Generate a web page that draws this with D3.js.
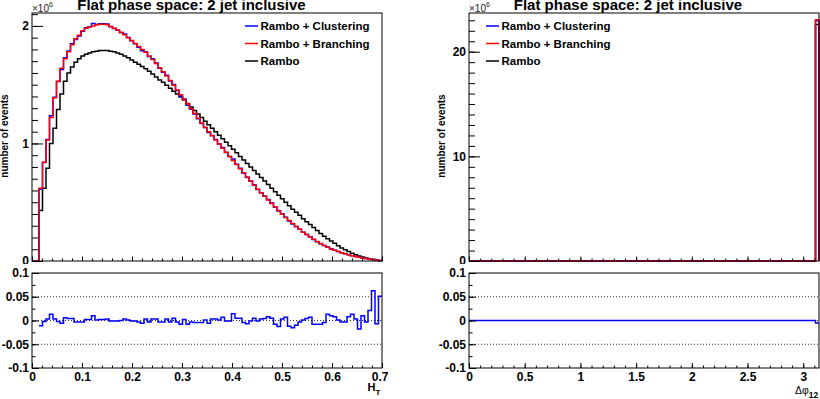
<!DOCTYPE html>
<html>
<head>
<meta charset="utf-8">
<script src="https://cdn.jsdelivr.net/npm/d3@7"></script>
<style>
  body { margin: 0; background: #fff; }
  svg text { font-family: "Liberation Sans", Arial, Helvetica, sans-serif; }
</style>
</head>
<body>
<div id="chart"></div>
<script>
// ---- data (event counts in units of 1e6) ----
const seriesNames = ["Rambo + Clustering", "Rambo + Branching", "Rambo"];
const seriesColors = ["#0000ff", "#ff0000", "#000000"];

// H_T : 100 bins on [0, 0.7]
const htRange = [0, 0.7];
const htRambo = [
  0, 0, 0.43, 0.62, 0.79, 1.00, 1.13, 1.29, 1.42, 1.53,
  1.60, 1.65, 1.69, 1.72, 1.745, 1.76, 1.77, 1.78, 1.785, 1.79,
  1.79, 1.79, 1.785, 1.78, 1.77, 1.76, 1.745, 1.73, 1.71, 1.69,
  1.675, 1.655, 1.635, 1.615, 1.59, 1.565, 1.54, 1.52, 1.495, 1.47,
  1.445, 1.42, 1.395, 1.37, 1.34, 1.31, 1.28, 1.25, 1.22, 1.19,
  1.16, 1.13, 1.10, 1.07, 1.04, 1.01, 0.98, 0.95, 0.92, 0.89,
  0.86, 0.83, 0.80, 0.77, 0.74, 0.71, 0.68, 0.65, 0.62, 0.59,
  0.56, 0.53, 0.50, 0.47, 0.44, 0.415, 0.39, 0.36, 0.335, 0.31,
  0.285, 0.26, 0.235, 0.21, 0.19, 0.17, 0.15, 0.13, 0.11, 0.095,
  0.08, 0.066, 0.054, 0.043, 0.033, 0.025, 0.018, 0.012, 0.007, 0.003
];
const htBranching = [
  0, 0, 0.62, 0.84, 1.03, 1.22, 1.39, 1.53, 1.64, 1.72,
  1.78, 1.84, 1.89, 1.92, 1.96, 1.98, 1.99, 2.00, 2.01, 2.015,
  2.015, 2.01, 1.995, 1.98, 1.965, 1.945, 1.925, 1.90, 1.875, 1.85,
  1.825, 1.80, 1.775, 1.745, 1.715, 1.68, 1.645, 1.61, 1.575, 1.535,
  1.495, 1.455, 1.415, 1.375, 1.335, 1.295, 1.255, 1.215, 1.175, 1.135,
  1.10, 1.065, 1.03, 0.995, 0.96, 0.925, 0.89, 0.855, 0.82, 0.785,
  0.75, 0.715, 0.68, 0.645, 0.61, 0.58, 0.55, 0.52, 0.49, 0.46,
  0.43, 0.40, 0.37, 0.345, 0.32, 0.295, 0.27, 0.245, 0.225, 0.205,
  0.185, 0.165, 0.148, 0.132, 0.117, 0.103, 0.091, 0.08, 0.07, 0.061,
  0.053, 0.045, 0.038, 0.032, 0.026, 0.021, 0.016, 0.012, 0.008, 0.004
];
// relative difference clustering vs branching (lower pad)
const htRatio = [
  null, null, -0.011, -0.002, 0.003, 0.013, 0.003, -0.002, -0.006, 0.006,
  0.004, 0.004, -0.003, -0.003, -0.003, 0.002, 0.002, 0.010, 0.001, 0.002,
  0.002, 0.003, -0.001, -0.001, -0.001, 0, 0.003, 0.001, -0.001, -0.001,
  -0.003, -0.006, 0.003, -0.003, 0.003, 0.003, -0.003, -0.003, 0.003, -0.003,
  0.005, -0.003, -0.008, 0.002, -0.008, -0.003, -0.004, -0.004, -0.004, 0.001,
  -0.006, 0.003, 0.003, 0.001, 0.007, -0.001, -0.001, 0.014, 0.005, 0.005,
  -0.004, -0.007, -0.001, 0.005, -0.001, 0.003, 0.004, 0.008, 0.005, -0.008,
  -0.0125, 0.003, 0.007, -0.012, -0.015, -0.010, -0.003, 0.001, 0.004, 0.007,
  -0.008, -0.008, -0.008, -0.004, 0.013, 0.010, 0.008, 0.001, -0.003, -0.003,
  0.008, 0.013, 0.003, -0.018, 0.010, -0.003, 0.021, 0.0625, -0.007, 0.051
];
const htClustering = htBranching.map((v, i) => v * (1 + (htRatio[i] || 0)));

// delta phi : 100 bins on [0, pi], every event lands in the last bin
const dphiRange = [0, Math.PI];
const dphiBins = 100;
const dphiLastBin = [22.95, 23.05, 22.6];   // clustering, branching, rambo
const dphiRatioLast = -0.005;

const W = 820, H = 399;
const mainY = [13, 261], ratioY = [273, 368];

const svg = d3.select("#chart").append("svg")
    .attr("width", W)
    .attr("height", H);

function steps(lo, hi, step) {
    const n = Math.round((hi - lo) / step);
    return d3.range(n + 1).map(i => +(lo + i * step).toFixed(6));
}

function fmt(d) { return String(+d.toFixed(3)); }

// major ticks with labels + minor ticks, ROOT style (ticks point inwards)
function axis(gen, scale, pos, major, minor, bigTick, smallTick, labels) {
    const g = svg.append("g").attr("transform", pos)
        .call(gen(scale).tickValues(major).tickSize(-bigTick).tickPadding(3)
            .tickFormat(labels ? fmt : ""))
        .attr("font-size", 12).attr("font-weight", "bold");
    g.select(".domain").remove();
    g.selectAll("line").attr("stroke", "#000");
    const m = svg.append("g").attr("transform", pos)
        .call(gen(scale).tickValues(minor).tickSize(-smallTick).tickFormat(""));
    m.select(".domain").remove();
    m.selectAll("line").attr("stroke", "#000");
    return g;
}

// draws one column: histogram pad + ratio pad
function drawPanel(p) {
    const x = d3.scaleLinear().domain(p.xDomain).range(p.xRange);
    const y = d3.scaleLinear().domain(p.yDomain).range([mainY[1], mainY[0]]);
    const yr = d3.scaleLinear().domain([-0.1, 0.1]).range([ratioY[1], ratioY[0]]);
    const nb = p.series[0].values.length;
    const bw = (p.xDomain[1] - p.xDomain[0]) / nb;
    const edge = i => p.xDomain[0] + i * bw;
    const [x0, x1] = p.xRange;

    // ---- upper pad ----
    // histograms (draw rambo, clustering, then branching on top)
    const line = d3.line().x(d => x(d[0])).y(d => y(d[1]));
    [2, 0, 1].forEach(k => {
        const vals = p.series[k].values;
        const pts = [[edge(0), 0]];
        vals.forEach((v, i) => { pts.push([edge(i), v], [edge(i + 1), v]); });
        pts.push([edge(nb), 0]);
        svg.append("path")
            .attr("d", line(pts))
            .attr("fill", "none")
            .attr("stroke", seriesColors[k])
            .attr("stroke-width", 1.5);
    });

    svg.append("rect")
        .attr("x", x0).attr("y", mainY[0])
        .attr("width", x1 - x0).attr("height", mainY[1] - mainY[0])
        .attr("fill", "none").attr("stroke", "#000");

    axis(d3.axisLeft, y, `translate(${x0},0)`, p.yMajor, p.yMinor, 11, 6, true);
    axis(d3.axisBottom, x, `translate(0,${mainY[1]})`, p.xMajor, p.xMinor, 4.5, 2.5, false);

    // x10^6 multiplier
    svg.append("text")
        .attr("x", x0).attr("y", 11.5)
        .attr("font-size", 10).attr("fill", "#222")
        .text("\u00d710")
        .append("tspan").attr("font-size", 7).attr("dy", -5).text("6");

    // y title
    svg.append("text")
        .attr("transform", `translate(${p.yTitleX},${(mainY[0] + mainY[1]) / 2 - 1}) rotate(-90)`)
        .attr("text-anchor", "middle")
        .attr("font-size", 10).attr("font-weight", "bold")
        .text("number of events");

    // title
    svg.append("text")
        .attr("x", p.titleX).attr("y", 10)
        .attr("text-anchor", "middle")
        .attr("font-size", 15).attr("font-weight", "bold")
        .text("Flat phase space: 2 jet inclusive");

    // legend
    const lg = svg.append("g").selectAll("g")
        .data(seriesNames)
        .enter().append("g")
        .attr("transform", (d, i) => `translate(${p.legendX},${26 + i * 17.5})`);
    lg.append("line")
        .attr("x1", 0).attr("x2", 13)
        .attr("stroke", (d, i) => seriesColors[i])
        .attr("stroke-width", 1.5);
    lg.append("text")
        .attr("x", 15.5).attr("y", 4)
        .attr("font-size", 11.5).attr("font-weight", "bold")
        .text(d => d);

    // ---- lower pad (its white background hides the bottom of the "0" label) ----
    svg.append("rect")
        .attr("x", p.padX[0]).attr("y", 264)
        .attr("width", p.padX[1] - p.padX[0]).attr("height", H - 264)
        .attr("fill", "#fff");

    svg.append("g").selectAll("line")
        .data([-0.05, 0, 0.05])
        .enter().append("line")
        .attr("x1", x0).attr("x2", x1)
        .attr("y1", d => yr(d)).attr("y2", d => yr(d))
        .attr("stroke", "#333")
        .attr("stroke-width", 1)
        .attr("stroke-dasharray", "1,2");

    const rline = d3.line().defined(d => d[1] !== null)
        .x(d => x(d[0])).y(d => yr(d[1]));
    const rpts = [];
    p.ratio.forEach((v, i) => { rpts.push([edge(i), v], [edge(i + 1), v]); });
    svg.append("path")
        .attr("d", rline(rpts))
        .attr("fill", "none")
        .attr("stroke", "#0000ff")
        .attr("stroke-width", 1.5);

    svg.append("rect")
        .attr("x", x0).attr("y", ratioY[0])
        .attr("width", x1 - x0).attr("height", ratioY[1] - ratioY[0])
        .attr("fill", "none").attr("stroke", "#000");

    axis(d3.axisLeft, yr, `translate(${x0},0)`, [-0.1, -0.05, 0, 0.05, 0.1],
        steps(-0.1, 0.1, 0.025), 7, 3.5, true);
    const gx = axis(d3.axisBottom, x, `translate(0,${ratioY[1]})`, p.xMajor, p.xMinor, 5, 2.5, true);
    gx.selectAll("text").attr("dy", "0.71em").attr("y", 4);
    if (p.lastLabelInside) {
        gx.selectAll(".tick:last-of-type text").attr("text-anchor", "end").attr("dx", 6);
    }

    p.xTitle(svg);
}

drawPanel({
    xDomain: htRange, xRange: [32, 382], padX: [0, 410],
    yDomain: [0, 2.11],
    series: [{ values: htClustering }, { values: htBranching }, { values: htRambo }],
    ratio: htRatio,
    yMajor: [0, 1, 2], yMinor: steps(0, 2.1, 0.1),
    xMajor: steps(0, 0.7, 0.1), xMinor: steps(0, 0.7, 0.02),
    lastLabelInside: true,
    yTitleX: 8, titleX: 191.5, legendX: 245,
    xTitle: s => {
        const t = s.append("text").attr("x", 367.5).attr("y", 391)
            .attr("font-size", 11).attr("font-weight", "bold").text("H");
        t.append("tspan").attr("font-size", 8).attr("dy", 4).text("T");
    }
});

const dphiSeries = dphiLastBin.map(v => d3.range(dphiBins).map(i => (i === dphiBins - 1 ? v : 0)));
const dphiRatio = d3.range(dphiBins).map(i => (i === dphiBins - 1 ? dphiRatioLast : 0));

drawPanel({
    xDomain: dphiRange, xRange: [469, 819], padX: [410, 820],
    yDomain: [0, 23.7],
    series: dphiSeries.map(v => ({ values: v })),
    ratio: dphiRatio,
    yMajor: [0, 10, 20], yMinor: steps(0, 23, 1),
    xMajor: steps(0, 3, 0.5), xMinor: steps(0, 3.1, 0.1),
    lastLabelInside: false,
    yTitleX: 445, titleX: 628, legendX: 486,
    xTitle: s => {
        const t = s.append("text").attr("x", 795).attr("y", 393.5)
            .attr("font-size", 10.5).text("\u0394\u03c6");
        t.append("tspan").attr("font-size", 8.5).attr("font-weight", "bold")
            .attr("dy", 4).text("12");
    }
});
</script>
</body>
</html>
